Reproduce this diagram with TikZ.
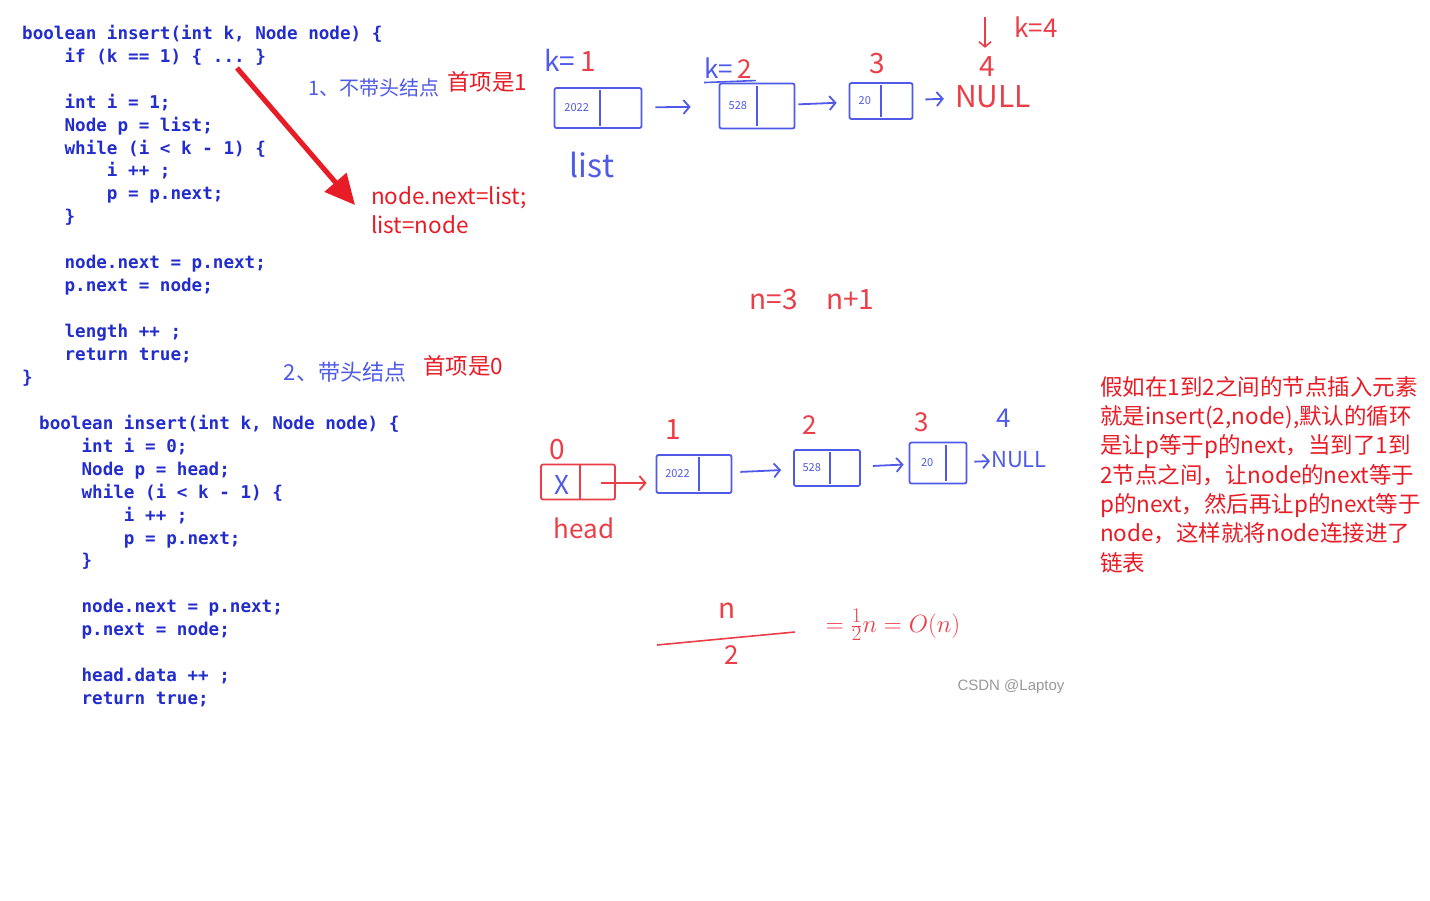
\documentclass[tikz,border=0pt]{standalone}
\usepackage{fontspec}
\setmainfont{Liberation Sans}
\setmonofont{DejaVu Sans Mono}
\newfontfamily\cjk{Noto Sans CJK SC}
\usetikzlibrary{positioning, arrows.meta, calc}
\definecolor{codeblue}{RGB}{35,45,205}
\definecolor{inkblue}{RGB}{80,90,232}
\definecolor{inkred}{RGB}{236,62,72}
\definecolor{notered}{RGB}{232,28,38}
\newcommand{\ci}{\phantom{xxxx}}

\begin{document}
\begin{tikzpicture}[x=1pt, y=-1pt,
  code/.style={anchor=north west, inner sep=0pt, align=left, codeblue,
    font=\ttfamily\bfseries\fontsize{17.6}{22.9}\selectfont},
  note/.style={notered, inner sep=0pt, align=left,
    font=\cjk\fontsize{22.5}{29.3}\selectfont},
  hand/.style={inkblue, inner sep=0pt, font=\cjk\fontsize{#1}{#1}\selectfont},
  redhand/.style={hand=#1, inkred},
  cell/.style={draw=inkblue, line width=1.8pt, rounded corners=2pt, inner sep=0pt},
  datum/.style={inkblue, inner sep=0pt, font=\cjk\fontsize{11}{11}\selectfont},
  link/.style={inkblue, line width=1.8pt, -{Straight Barb[length=6pt,width=14pt]}},
  bigarrow/.style={notered, line width=5pt, -{Triangle[length=30pt,width=28pt]}}
]
\useasboundingbox (0,0) rectangle (1430,900);
\fill[white] (0,0) rectangle (1430,900);

% code without head node
\node[code] (codeA) at (22,25) {boolean insert(int k, Node node) \{\\
\ci if (k == 1) \{ ... \}\\[22.9pt]
\ci int i = 1;\\
\ci Node p = list;\\
\ci while (i < k - 1) \{\\
\ci\ci i ++ ;\\
\ci\ci p = p.next;\\
\ci \}\\[22.9pt]
\ci node.next = p.next;\\
\ci p.next = node;\\[22.9pt]
\ci length ++ ;\\
\ci return true;\\
\}};

% code with head node
\node[code] (codeB) at (39,415) {boolean insert(int k, Node node) \{\\
\ci int i = 0;\\
\ci Node p = head;\\
\ci while (i < k - 1) \{\\
\ci\ci i ++ ;\\
\ci\ci p = p.next;\\
\ci \}\\[22.9pt]
\ci node.next = p.next;\\
\ci p.next = node;\\[22.9pt]
\ci head.data ++ ;\\
\ci return true;};

% notes
\node[hand=20] (noheadA) at (374,88) {1、不带头结点};
\node[note] (firstA) at (487,82) {首项是1};
\node[hand=22] (headB) at (345,372) {2、带头结点};
\node[note] (firstB) at (463,366) {首项是0};
\node[note, anchor=north west] (fix) at (371,186) {node.next=list;\\list=node};
\coordinate (dots) at (237,68);
\coordinate (tip) at (355,205);
\draw[bigarrow] (dots) -- (tip);

% list without head node
\node[hand=28] (k1) at (570,60) {k={\color{inkred}\,1}};
\node[hand=26] (k2) at (728,68) {k={\color{inkred}\,2}};
\draw[inkblue, line width=1.6pt] ($(k2.south west)+(0,4)$) -- ($(k2.south east)+(4,2)$);
\node[redhand=28] (q3) at (877,64) {3};
\node[redhand=28] (q4) at (987,67) {4};
\node[redhand=26] (k4) at (1036,27) {k=4};
\coordinate (down4) at (985,17);
\draw[inkred, line width=1.6pt, -{Straight Barb[length=5pt,width=12pt]}] (down4) -- ($(q4.north)+(-2,-9)$);
\node[cell, minimum width=87pt, minimum height=40pt] (ta) at (598,108) {};
\node[cell, minimum width=75pt, minimum height=45pt] (tb) at (757,106) {};
\node[cell, minimum width=63pt, minimum height=36pt] (tc) at (881,101) {};
\node[redhand=30] (tnull) at (993,97) {NULL};
\node[hand=32] (lst) at (592,165) {list};

% list with head node
\node[redhand=28] (r0) at (557,450) {0};
\node[cell, draw=inkred, minimum width=74pt, minimum height=35pt] (hd) at (578,482) {};
\draw[inkred, line width=1.8pt] ($(hd.north west)!0.53!(hd.north east)$) -- ($(hd.south west)!0.53!(hd.south east)$);
\node[hand=26] (cross) at (562,485) {X};
\node[redhand=26] (hname) at (584,528) {head};
\node[redhand=28] (r1) at (673,430) {1};
\node[redhand=26] (r2) at (810,425) {2};
\node[redhand=26] (r3) at (922,422) {3};
\node[hand=26] (r4) at (1004,418) {4};
\node[cell, minimum width=75pt, minimum height=38pt] (ba) at (694,474) {};
\node[cell, minimum width=66pt, minimum height=36pt] (bb) at (827,468) {};
\node[cell, minimum width=57pt, minimum height=41pt] (bc) at (938,463) {};
\node[hand=22] (bnull) at (1019,460) {NULL};

% dividers and data
\foreach \c/\f/\d in {ta/0.52/2022, tb/0.5/528, tc/0.5/20, ba/0.57/2022, bb/0.55/528, bc/0.63/20} {
  \draw[inkblue, line width=1.8pt] ($(\c.north west)!\f!(\c.north east)+(0,3)$) -- ($(\c.south west)!\f!(\c.south east)+(0,-3)$);
  \node[datum] at ($(\c.west)!\f/2!(\c.east)$) {\d};
}

% pointers
\draw[link, shorten <=13pt, shorten >=28pt] (ta) -- (tb);
\draw[link, shorten <=3pt, shorten >=12pt] (tb) -- (tc);
\draw[link, shorten <=12pt, shorten >=11pt] (tc) -- (tnull);
\draw[link, inkred] ($(hd.east)+(-15,1)$) -- ($(hd.east -| ba.west)+(-9,1)$);
\draw[link, shorten <=8pt, shorten >=12pt] (ba) -- (bb);
\draw[link, shorten <=12pt, shorten >=5pt] (bb) -- (bc);
\draw[link, shorten <=7pt, shorten >=1pt] (bc) -- (bnull);

% counting
\node[redhand=28] (nn) at (812,300) {n=3\quad n+1};
\node[redhand=28] (num) at (727,611) {n};
\node[redhand=26] (den) at (732,655) {2};
\coordinate (barL) at (657,645);
\coordinate (barR) at (795,632);
\draw[inkred, line width=1.6pt] (barL) -- (barR);
\node[inkred, inner sep=0pt, font=\fontsize{28}{28}\selectfont] (res) at (893,625) {$=\frac{1}{2}n=O(n)$};

\node[note, anchor=north west] (explain) at (1100,376) {假如在1到2之间的节点插入元素\\
就是insert(2,node),默认的循环\\
是让p等于p的next，当到了1到\\
2节点之间，让node的next等于\\
p的next，然后再让p的next等于\\
node，这样就将node连接进了\\
链表};

\node[gray!80, font=\fontsize{15}{15}\selectfont] (mark) at (1011,687) {CSDN @Laptoy};
\end{tikzpicture}
\end{document}
